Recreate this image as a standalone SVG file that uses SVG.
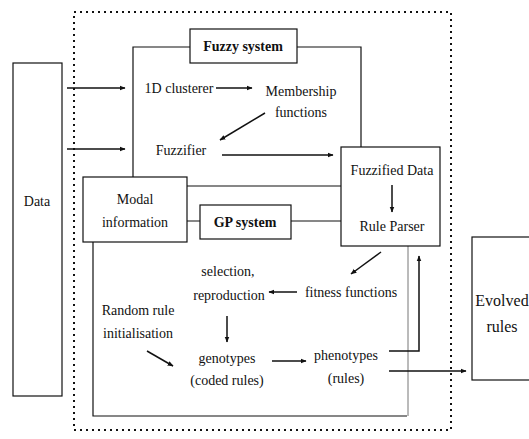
<svg xmlns="http://www.w3.org/2000/svg" width="529" height="439" viewBox="0 0 529 439">
<style>
.box{fill:#fff;stroke:#111;stroke-width:1.2}
.ln{fill:none;stroke:#111;stroke-width:1.2}
.faint{fill:none;stroke:#777;stroke-width:1}
.dot{fill:none;stroke:#111;stroke-width:2;stroke-dasharray:2 4}
.ar{fill:none;stroke:#111;stroke-width:1.5;marker-end:url(#ah)}
text{font-family:'Liberation Serif','DejaVu Serif',serif;font-size:14px;fill:#111;text-anchor:middle}
.b{font-weight:bold}
</style>
<defs>
<marker id="ah" viewBox="0 0 10 10" refX="9" refY="5" markerWidth="6" markerHeight="6" orient="auto" markerUnits="userSpaceOnUse">
<path d="M0,1 L10,5 L0,9 Z" fill="#111"/>
</marker>
</defs>
<rect width="529" height="439" fill="#fff"/>
<rect class="dot" x="74" y="12" width="377" height="418"/>

<g id="fuzzy-system">
<path class="ln" d="M190,47 H133 V177 M297,47 H361 V147"/>
<rect class="box" x="190" y="29" width="107" height="34"/>
<text class="b" x="243" y="51" font-size="15">Fuzzy system</text>
</g>

<g id="gp-system">
<path class="ln" d="M93,242 V416 H407"/>
<path class="faint" d="M408,416 V246"/>
<path class="ln" d="M187,186 H341 M187,221 H200 M291,221 H341"/>
<rect class="box" x="200" y="205" width="91" height="34"/>
<text class="b" x="245" y="227">GP system</text>
</g>

<g id="data">
<rect class="box" x="13" y="63" width="49" height="333"/>
<text x="37" y="206">Data</text>
</g>

<g id="modal">
<rect class="box" x="83" y="177" width="104" height="65"/>
<text x="135" y="204">Modal</text>
<text x="135" y="227">information</text>
</g>

<g id="fuzzified">
<rect class="box" x="341" y="147" width="99" height="99"/>
<text x="392" y="175">Fuzzified Data</text>
<text x="392" y="231">Rule Parser</text>
</g>

<g id="evolved">
<rect class="box" x="472" y="237" width="70" height="143"/>
<text x="502" y="306" style="font-size:16px">Evolved</text>
<text x="502" y="332" style="font-size:16px">rules</text>
</g>

<g id="clusterer"><text x="179" y="93">1D clusterer</text></g>
<g id="membership"><text x="301" y="96">Membership</text><text x="301" y="117">functions</text></g>
<g id="fuzzifier"><text x="181" y="155">Fuzzifier</text></g>
<g id="selection"><text x="228" y="276">selection,</text><text x="229" y="300">reproduction</text></g>
<g id="fitness"><text x="351" y="297">fitness functions</text></g>
<g id="random"><text x="138" y="315">Random rule</text><text x="138" y="338">initialisation</text></g>
<g id="genotypes"><text x="227" y="363">genotypes</text><text x="227" y="385">(coded rules)</text></g>
<g id="phenotypes"><text x="346" y="360">phenotypes</text><text x="346" y="383">(rules)</text></g>

<g id="connectors">
<path class="ar" d="M67,88 H125"/>
<path class="ar" d="M67,149 H125"/>
<path class="ar" d="M216,88 H252"/>
<path class="ar" d="M265,113 L220,140"/>
<path class="ar" d="M222,155 H333"/>
<path class="ar" d="M392,185 V212"/>
<path class="ar" d="M381,252 L351,274"/>
<path class="ar" d="M297,292 H269"/>
<path class="ar" d="M227,316 V342"/>
<path class="ar" d="M147,351 L173,366"/>
<path class="ar" d="M272,361 H306"/>
<path class="ar" d="M389,351 H419 V256"/>
<path class="ar" d="M389,371 H466"/>
</g>
</svg>
